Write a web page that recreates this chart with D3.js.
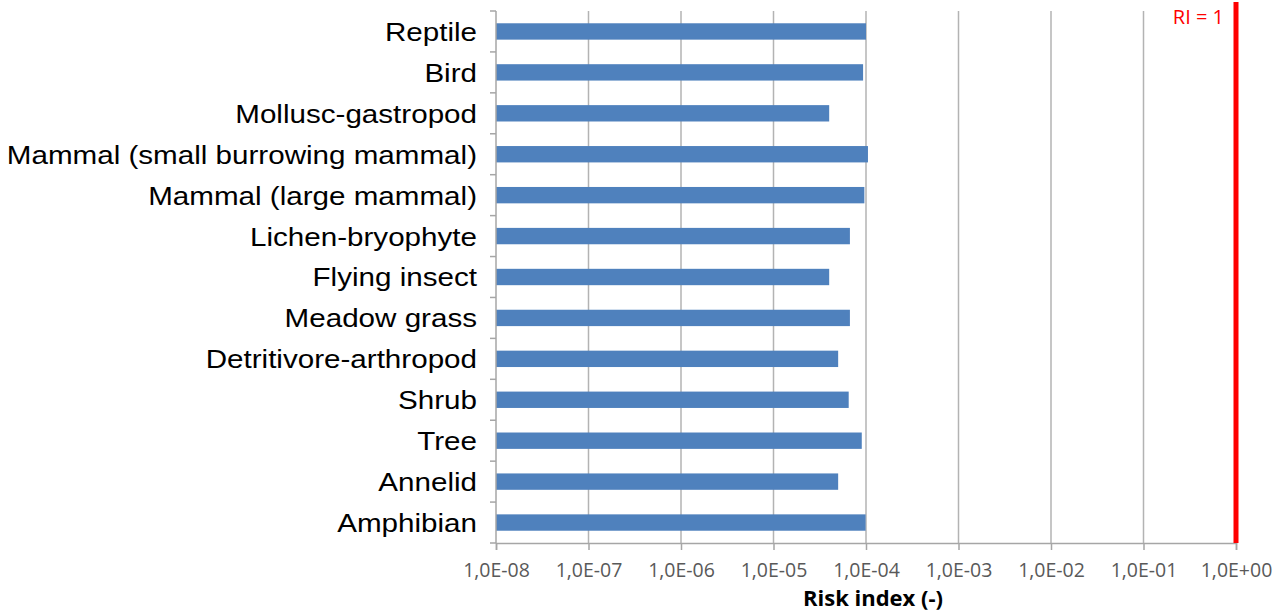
<!DOCTYPE html>
<html>
<head>
<meta charset="utf-8">
<script src="https://cdn.jsdelivr.net/npm/d3@7"></script>
<style>
  body { margin: 0; background: #fff; }
</style>
</head>
<body>
<script>
var W = 1277;
var H = 611;
var margin = {top: 11, right: 41, bottom: 68, left: 496};
var w = W - margin.left - margin.right;
var h = H - margin.top - margin.bottom;
var stretch = 1.13; // the source picture is a bit wider than tall

// data (top to bottom)
var categories = ["Reptile", "Bird", "Mollusc-gastropod", "Mammal (small burrowing mammal)",
    "Mammal (large mammal)", "Lichen-bryophyte", "Flying insect", "Meadow grass",
    "Detritivore-arthropod", "Shrub", "Tree", "Annelid", "Amphibian"];
var riskIndex = [1.0e-4, 9.3e-5, 4.0e-5, 1.05e-4, 9.6e-5, 6.7e-5, 4.0e-5, 6.7e-5,
    5.0e-5, 6.5e-5, 9.0e-5, 5.0e-5, 9.9e-5];
var tickValues = [1e-8, 1e-7, 1e-6, 1e-5, 1e-4, 1e-3, 1e-2, 1e-1, 1];
var tickLabels = ["1,0E-08", "1,0E-07", "1,0E-06", "1,0E-05", "1,0E-04",
    "1,0E-03", "1,0E-02", "1,0E-01", "1,0E+00"];
var threshold = 1;

var svg = d3.select("body")
    .append("svg")
    .attr("width", W)
    .attr("height", H)
    .append("g")
    .attr("transform", "translate(" + margin.left + "," + margin.top + ")");

var xScale = d3.scaleLog()
    .domain([1e-8, 1])
    .range([0, w]);

var yScale = d3.scaleBand()
    .domain(categories)
    .range([0, h])
    .paddingInner(0.6)
    .paddingOuter(0.3);

// vertical gridlines
svg.selectAll(".grid")
    .data(tickValues.slice(1))
    .enter()
    .append("line")
    .attr("class", "grid")
    .attr("x1", function (d) { return xScale(d); })
    .attr("x2", function (d) { return xScale(d); })
    .attr("y1", 0)
    .attr("y2", h)
    .attr("stroke", "#b3b3b3")
    .attr("stroke-width", 1.5);

// bars
svg.selectAll(".bar")
    .data(riskIndex)
    .enter()
    .append("rect")
    .attr("class", "bar")
    .attr("x", 0)
    .attr("y", function (d, i) { return yScale(categories[i]); })
    .attr("width", function (d) { return xScale(d); })
    .attr("height", yScale.bandwidth())
    .attr("fill", "#4f81bd");

// X axis
var xAxis = d3.axisBottom(xScale)
    .tickValues(tickValues)
    .tickFormat(function (d, i) { return tickLabels[i]; })
    .tickSize(7)
    .tickPadding(13);

var gx = svg.append("g")
    .attr("transform", "translate(0," + h + ")")
    .call(xAxis);
gx.select(".domain").attr("stroke", "#a6a6a6").attr("stroke-width", 1.5);
gx.selectAll(".tick line").attr("stroke", "#a6a6a6").attr("stroke-width", 1.5);
gx.selectAll(".tick text")
    .attr("fill", "#595959")
    .style("font-family", "'Open Sans', sans-serif")
    .style("font-size", "19.5px");

// Y axis (labels only)
var yAxis = d3.axisLeft(yScale)
    .tickSize(0)
    .tickPadding(19);

var gy = svg.append("g").call(yAxis);
gy.select(".domain").remove();
gy.selectAll(".tick text")
    .attr("x", -19 / stretch)
    .attr("dy", "0.36em")
    .attr("transform", "scale(" + stretch + ",1)")
    .attr("fill", "#000")
    .style("font-family", "'Liberation Sans', Arial, sans-serif")
    .style("font-size", "26.2px");

svg.append("line")
    .attr("x1", 0).attr("x2", 0)
    .attr("y1", 0).attr("y2", h)
    .attr("stroke", "#a6a6a6")
    .attr("stroke-width", 1.5);

// tick marks between categories
var step = yScale.step();
var bounds = categories.map(function (c) {
    return yScale(c) - (step - yScale.bandwidth()) / 2;
}).concat([h]);

svg.selectAll(".ytick")
    .data(bounds)
    .enter()
    .append("line")
    .attr("class", "ytick")
    .attr("x1", -6).attr("x2", 0)
    .attr("y1", function (d) { return d; })
    .attr("y2", function (d) { return d; })
    .attr("stroke", "#a6a6a6")
    .attr("stroke-width", 1.5);

// RI = 1 threshold
svg.append("line")
    .attr("x1", xScale(threshold)).attr("x2", xScale(threshold))
    .attr("y1", -9).attr("y2", h)
    .attr("stroke", "#ff0000")
    .attr("stroke-width", 5);

svg.append("text")
    .attr("x", xScale(threshold) - 12)
    .attr("y", 13)
    .attr("text-anchor", "end")
    .attr("fill", "#ff0000")
    .style("font-family", "'Open Sans', sans-serif")
    .style("font-size", "20px")
    .text("RI = 1");

// axis title
svg.append("text")
    .attr("x", w / 2 + 7)
    .attr("y", h + 63)
    .attr("text-anchor", "middle")
    .attr("fill", "#000")
    .style("font-family", "'Open Sans', sans-serif")
    .style("font-weight", "bold")
    .style("font-size", "22px")
    .text("Risk index (-)");
</script>
</body>
</html>
